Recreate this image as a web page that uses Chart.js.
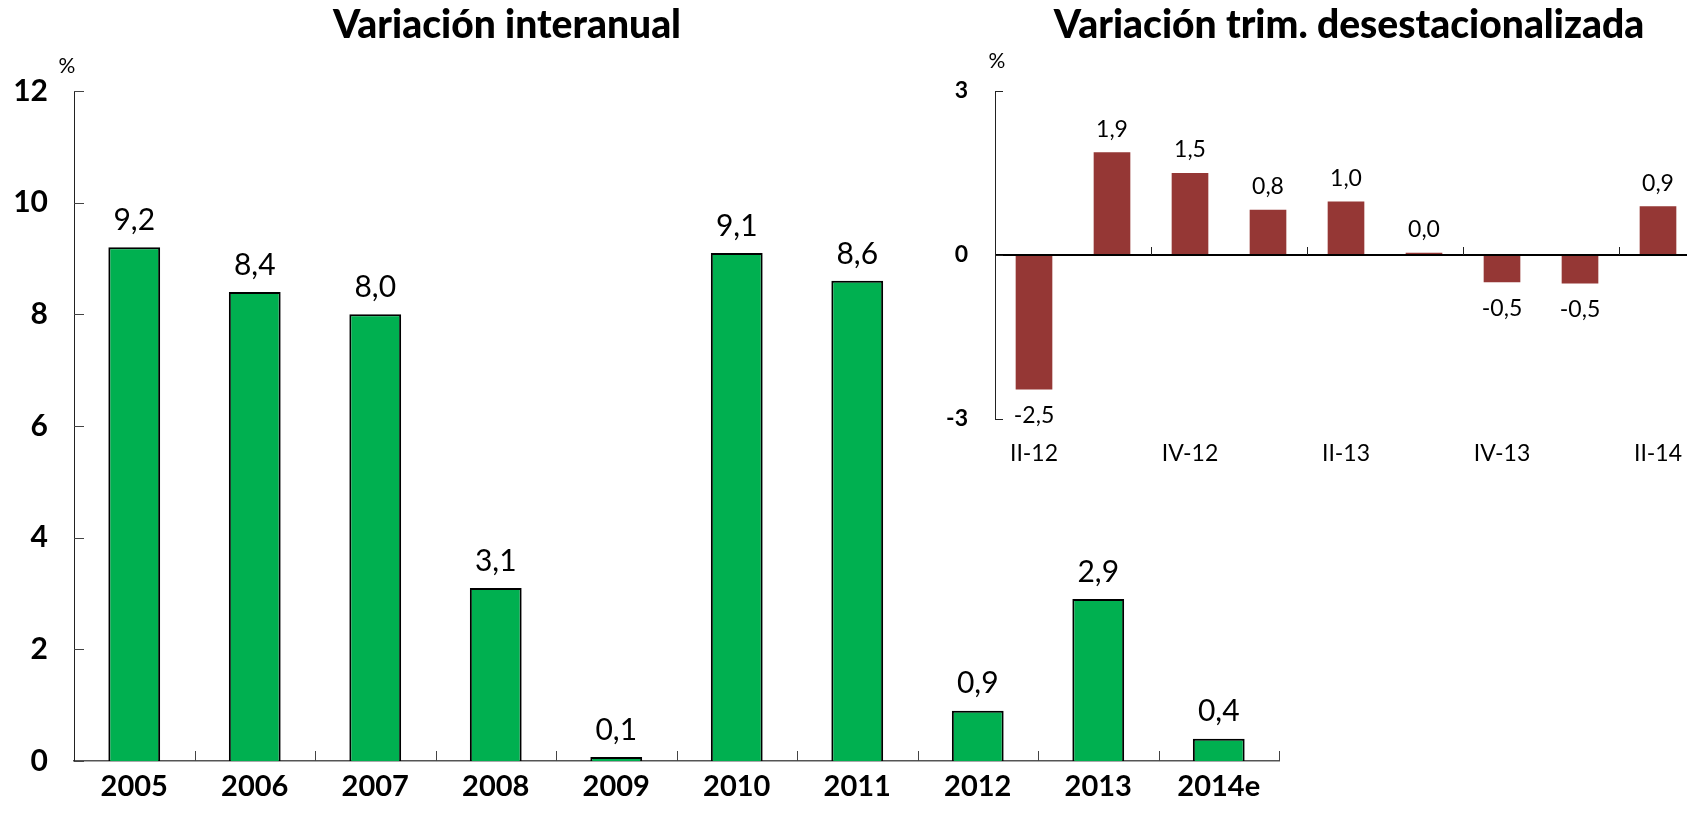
<!DOCTYPE html>
<html>
<head>
<meta charset="utf-8">
<script src="https://cdn.jsdelivr.net/npm/chart.js@4.4.1/dist/chart.umd.min.js"></script>
<style>
  html, body { margin: 0; padding: 0; background: #fff; overflow: hidden; width: 1687px; height: 815px; }
  canvas { position: absolute; top: 0; }
  #left { left: 0; }
  #right { left: 900px; }
</style>
</head>
<body>
<canvas id="left" width="1300" height="815"></canvas>
<canvas id="right" width="820" height="480"></canvas>
<script>
// ---- Data ----
const annualYears = ['2005', '2006', '2007', '2008', '2009', '2010', '2011', '2012', '2013', '2014e'];
const annualValues = [9.2, 8.4, 8.0, 3.1, 0.07, 9.1, 8.6, 0.9, 2.9, 0.4];
const annualTicks = [0, 2, 4, 6, 8, 10, 12];

const quarters = ['II-12', 'III-12', 'IV-12', 'I-13', 'II-13', 'III-13', 'IV-13', 'I-14', 'II-14'];
const quarterValues = [-2.46, 1.88, 1.5, 0.83, 0.98, 0.04, -0.5, -0.52, 0.89];
const quarterTicks = [-3, 0, 3];

const titleLeft = 'Variación interanual';
const titleRight = 'Variación trim. desestacionalizada';
const unitLabel = '%';

const FONT = 'Lato, "Open Sans", sans-serif';

const fmt = v => v.toFixed(1).replace('.', ',');

// ---- Plugins ----
const innerTicks = {
  id: 'innerTicks',
  afterDatasetsDraw(chart, args, o) {
    const { ctx, chartArea, scales: { x, y } } = chart;
    ctx.save();
    ctx.strokeStyle = o.color;
    ctx.lineWidth = 1;
    y.ticks.forEach((t, i) => {
      const py = Math.round(y.getPixelForTick(i)) + 0.5;
      ctx.beginPath();
      ctx.moveTo(chartArea.left, py);
      ctx.lineTo(chartArea.left + o.len, py);
      ctx.stroke();
    });
    const base = y.getPixelForValue(0);
    o.xAt(x.ticks.length).forEach(b => {
      const px = Math.round(x.getPixelForValue(b)) + 0.5;
      ctx.beginPath();
      ctx.moveTo(px, base);
      ctx.lineTo(px, base - o.len);
      ctx.stroke();
    });
    ctx.restore();
  }
};

const valueLabels = {
  id: 'valueLabels',
  afterDatasetsDraw(chart, args, o) {
    const { ctx } = chart;
    const meta = chart.getDatasetMeta(0);
    const data = chart.data.datasets[0].data;
    ctx.save();
    ctx.font = o.font;
    ctx.fillStyle = '#000';
    ctx.textAlign = 'center';
    ctx.textBaseline = 'middle';
    meta.data.forEach((bar, i) => {
      const v = data[i];
      const yy = v >= 0 ? bar.y - o.above : bar.y + o.below;
      ctx.fillText(fmt(v), bar.x, yy);
    });
    ctx.restore();
  }
};

const texts = {
  id: 'texts',
  afterDraw(chart, args, o) {
    const { ctx } = chart;
    ctx.save();
    ctx.fillStyle = '#000';
    ctx.textBaseline = 'middle';
    o.items.forEach(it => {
      ctx.font = it.font;
      ctx.textAlign = it.align || 'center';
      ctx.fillText(it.text, it.x, it.y);
    });
    ctx.restore();
  }
};

// ---- Left chart ----
new Chart(document.getElementById('left'), {
  type: 'bar',
  data: {
    labels: annualYears,
    datasets: [{
      data: annualValues,
      backgroundColor: '#00B050',
      borderColor: '#000',
      borderWidth: 2,
      borderSkipped: 'start',
      categoryPercentage: 1,
      barPercentage: 0.43
    }]
  },
  options: {
    responsive: false,
    animation: false,
    events: [],
    layout: { padding: { top: 91, right: 21, bottom: 0, left: 0 } },
    plugins: {
      legend: { display: false },
      tooltip: { enabled: false },
      innerTicks: { color: '#444', len: 10, xAt: n => Array.from({ length: n }, (_, i) => i + 0.5) },
      valueLabels: { font: '30px ' + FONT, above: 27, below: 26 },
      texts: { items: [
        { text: titleLeft, x: 507, y: 25, font: '900 39px ' + FONT },
        { text: unitLabel, x: 67, y: 66, font: '21px ' + FONT }
      ] }
    },
    scales: {
      x: {
        grid: { display: false, drawTicks: false },
        border: { display: true, color: '#555', width: 1.5 },
        ticks: { color: '#000', font: { family: FONT, size: 29, weight: 'bold' }, padding: 8, maxRotation: 0, autoSkip: false },
        afterFit: s => { s.height = 54; }
      },
      y: {
        min: 0, max: 12,
        afterBuildTicks: s => { s.ticks = annualTicks.map(v => ({ value: v })); },
        grid: { display: false, drawTicks: false },
        border: { display: true, color: '#222', width: 1 },
        ticks: { color: '#000', font: { family: FONT, size: 30, weight: 'bold' }, padding: 26 },
        afterFit: s => { s.width = 74; }
      }
    }
  },
  plugins: [innerTicks, valueLabels, texts]
});

// ---- Right chart ----
new Chart(document.getElementById('right'), {
  type: 'bar',
  data: {
    labels: quarters,
    datasets: [{
      data: quarterValues,
      backgroundColor: '#953735',
      borderWidth: 0,
      categoryPercentage: 1,
      barPercentage: 0.47
    }]
  },
  options: {
    responsive: false,
    animation: false,
    events: [],
    layout: { padding: { top: 91, right: 23, bottom: 0, left: 0 } },
    plugins: {
      legend: { display: false },
      tooltip: { enabled: false },
      innerTicks: { color: '#222', len: 8, xAt: () => [1.5, 3.5, 5.5, 7.5] },
      valueLabels: { font: '23px ' + FONT, above: 23, below: 26 },
      texts: { items: [
        { text: titleRight, x: 449, y: 25, font: '900 39px ' + FONT },
        { text: unitLabel, x: 97, y: 61, font: '21px ' + FONT }
      ] }
    },
    scales: {
      x: {
        grid: { display: false, drawTicks: false },
        border: { display: false },
        ticks: {
          color: '#000', font: { family: FONT, size: 23 }, padding: 21, maxRotation: 0, autoSkip: false,
          callback: (v, i) => (i % 2 === 0 ? quarters[i] : '')
        },
        afterFit: s => { s.height = 61; }
      },
      y: {
        min: -3, max: 3,
        afterBuildTicks: s => { s.ticks = quarterTicks.map(v => ({ value: v })); },
        grid: {
          drawTicks: false,
          color: c => (c.tick && c.tick.value === 0 ? '#000' : 'rgba(0,0,0,0)'),
          lineWidth: c => (c.tick && c.tick.value === 0 ? 2 : 0)
        },
        border: { display: true, color: '#222', width: 1 },
        ticks: { color: '#000', font: { family: FONT, size: 23, weight: 'bold' }, padding: 27 },
        afterFit: s => { s.width = 95; }
      }
    }
  },
  plugins: [innerTicks, valueLabels, texts]
});
</script>
</body>
</html>
